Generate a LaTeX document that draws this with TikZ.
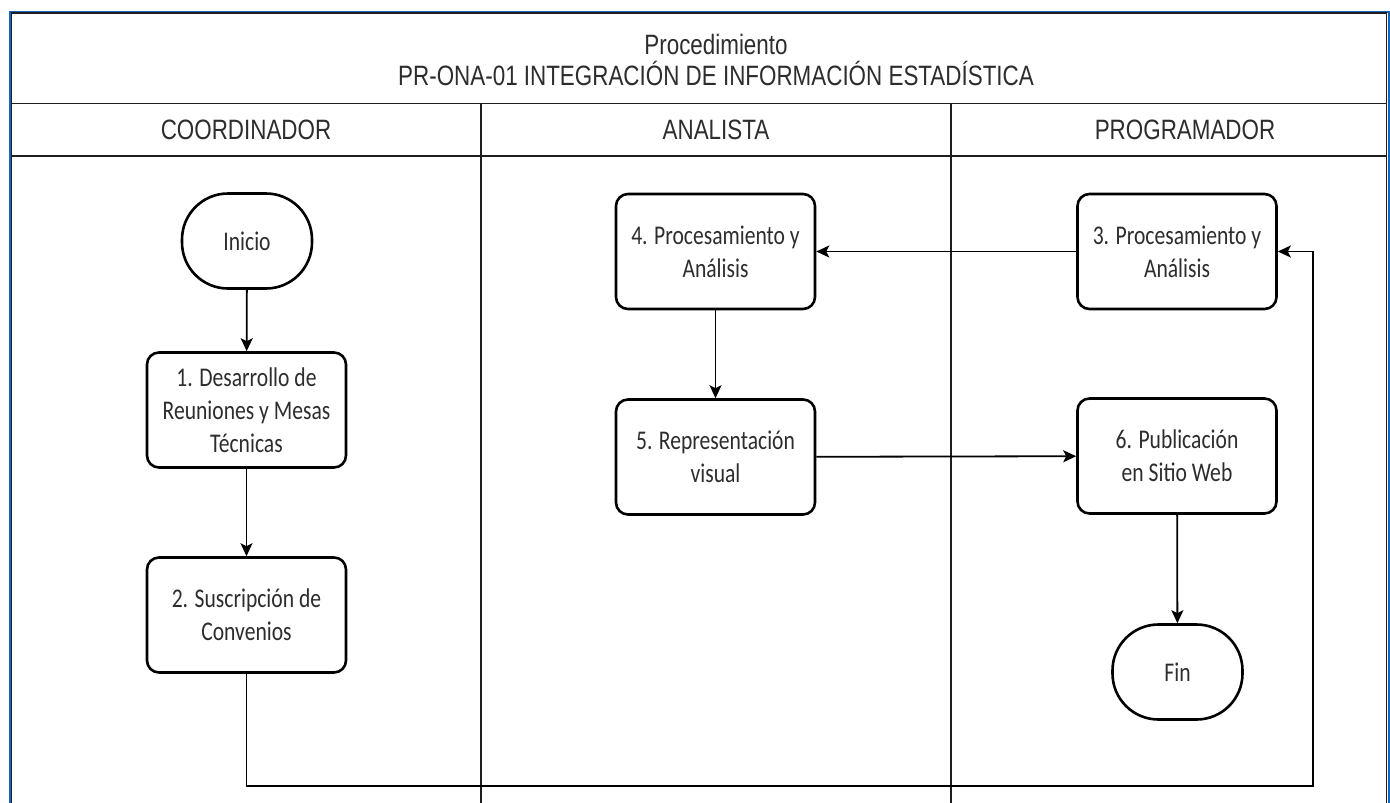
\documentclass[tikz,border=0pt]{standalone}
\usepackage{fontspec}
\setmainfont{Liberation Sans}
\newfontfamily\boxfont[FakeStretch=0.8]{Carlito}
\newfontfamily\headfont[FakeStretch=0.8]{Liberation Sans}
\usetikzlibrary{arrows.meta}
\definecolor{frameblue}{RGB}{20,100,190}
\definecolor{txt}{RGB}{45,45,45}
\definecolor{gridc}{RGB}{30,30,30}
\begin{document}
\begin{tikzpicture}[x=1pt,y=-1pt,
  proc/.style={draw=black, line width=2.6pt, rounded corners=12pt,
    minimum width=199pt, minimum height=115pt, align=center, inner sep=0pt,
    text=txt, font=\boxfont\fontsize{27}{33}\selectfont},
  term/.style={draw=black, line width=2.6pt, rounded corners=46pt,
    minimum width=130pt, minimum height=95pt, align=center, inner sep=0pt,
    text=txt, font=\boxfont\fontsize{27}{33}\selectfont},
  conn/.style={draw=black, line width=1.8pt, -{Stealth[length=13pt,width=12pt,inset=3pt]}},
  gridline/.style={draw=gridc, line width=1.6pt},
  head/.style={text=txt, align=center, font=\headfont\fontsize{28}{31}\selectfont}
]
\useasboundingbox (0,0) rectangle (1390,803);
\fill[white] (0,0) rectangle (1390,803);

% frame and table
\draw[frameblue, line width=2pt] (9.5,803) -- (9.5,11.5) -- (1388.5,11.5) -- (1388.5,803);
\draw[gridline] (11.5,803) -- (11.5,13) -- (1386.5,13) -- (1386.5,803);
\draw[gridline] (11.5,103.5) -- (1386.5,103.5);
\draw[gridline] (11.5,156) -- (1386.5,156);
\draw[gridline] (481,103.5) -- (481,803);
\draw[gridline] (951,103.5) -- (951,803);

% titles
\node[head] (title) at (716,60) {Procedimiento\\PR-ONA-01 INTEGRACIÓN DE INFORMACIÓN ESTADÍSTICA};
\node[head] (lane1) at (246,130) {COORDINADOR};
\node[head] (lane2) at (716,130) {ANALISTA};
\node[head] (lane3) at (1185,130) {PROGRAMADOR};

% nodes
\node[term] (inicio) at (247,241) {Inicio};
\node[proc] (b1) at (246.5,410) {1. Desarrollo de\\Reuniones y Mesas\\Técnicas};
\node[proc] (b2) at (246.5,615) {2. Suscripción de\\Convenios};
\node[proc] (b4) at (715.5,251.5) {4. Procesamiento y\\Análisis};
\node[proc] (b5) at (715.5,457) {5. Representación\\visual};
\node[proc] (b3) at (1177,251.5) {3. Procesamiento y\\Análisis};
\node[proc] (b6) at (1177,456) {6. Publicación\\en Sitio Web};
\node[term] (fin) at (1177.5,672) {Fin};

\coordinate (loop) at (1313,786);

% connectors
\draw[conn] (inicio) -- (b1);
\draw[conn] (b1) -- (b2);
\draw[conn] (b2.south) |- (loop) |- (b3.east);
\draw[conn] (b3) -- (b4);
\draw[conn] (b4) -- (b5);
\draw[conn] (b5) -- (b6);
\draw[conn] (b6) -- (fin);
\end{tikzpicture}
\end{document}
